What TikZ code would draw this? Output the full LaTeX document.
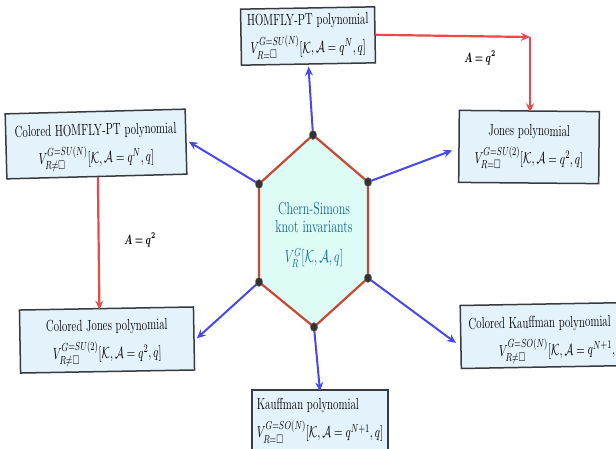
\documentclass[tikz,border=0pt]{standalone}
\usepackage{amsmath,amssymb,bm,graphicx}
\usetikzlibrary{arrows.meta,shapes.geometric}
\definecolor{boxfill}{RGB}{228,242,252}
\definecolor{boxborder}{RGB}{55,58,62}
\definecolor{hexfill}{RGB}{222,252,246}
\definecolor{hexedge}{RGB}{200,72,52}
\definecolor{hextext}{RGB}{20,104,150}
\definecolor{bluearr}{RGB}{72,72,240}
\definecolor{redarr}{RGB}{236,72,72}
\newcommand{\vst}[1]{\scalebox{1}[1.45]{#1}}
\newcommand{\tpad}[1]{\rule{0pt}{#1}}
\begin{document}
\begin{tikzpicture}[x=1pt,y=-1pt,
  polybox/.style={draw=boxborder, line width=1.5pt, fill=boxfill, align=center,
    font=\fontsize{11}{28}\selectfont, inner sep=3pt},
  bluearrow/.style={draw=bluearr, line width=2pt, -{Stealth[length=9pt,width=8pt,inset=3pt]}},
  redarrow/.style={draw=redarr, line width=2.2pt, -{Stealth[length=9pt,width=8pt,inset=3pt]}},
  vdot/.style={ellipse, fill=black!80, draw=black!50, inner sep=0pt, minimum width=7.5pt, minimum height=9pt},
  labtext/.style={font=\fontsize{9}{10}\selectfont}
]
\useasboundingbox[fill=white] (0,0) rectangle (616,448);

% hexagon
\coordinate (v1) at (313,135);
\coordinate (v2) at (368,182);
\coordinate (v3) at (368,278);
\coordinate (v4) at (314,327);
\coordinate (v5) at (259,282);
\coordinate (v6) at (259,184);
\filldraw[fill=hexfill, draw=hexedge, line width=2.2pt, line join=round]
  (v1) -- (v2) -- (v3) -- (v4) -- (v5) -- (v6) -- cycle;
\node[text=hextext, align=center, font=\fontsize{12}{18}\selectfont] (cs) at (314,235)
  {\vst{Chern-Simons}\\\vst{knot invariants}\\[12pt] \vst{$V_R^G[\mathcal{K},\mathcal{A},q]$}};

% boxes
\node[polybox, minimum width=134pt, minimum height=56pt, rotate=1] (homfly) at (308,36)
  {\vst{HOMFLY-PT polynomial}\\ \vst{$V_{R=\square}^{G=SU(N)}[\mathcal{K},\mathcal{A}=q^N,q]$}};
\node[polybox, minimum width=180pt, minimum height=65pt, rotate=1.5] (chomfly) at (96,144)
  {\tpad{18pt}\vst{Colored HOMFLY-PT polynomial}\\ \vst{$V_{R\neq\square}^{G=SU(N)}[\mathcal{K},\mathcal{A}=q^N,q]$}};
\node[polybox, minimum width=140pt, minimum height=72pt, rotate=-0.5] (jones) at (529,147)
  {\vst{Jones polynomial}\\ \vst{$V_{R=\square}^{G=SU(2)}[\mathcal{K},\mathcal{A}=q^2,q]$}};
\node[polybox, minimum width=174pt, minimum height=63pt, rotate=1] (cjones) at (107,340)
  {\tpad{17pt}\vst{Colored Jones polynomial}\\ \vst{$V_{R\neq\square}^{G=SU(2)}[\mathcal{K},\mathcal{A}=q^2,q]$}};
\node[polybox, anchor=west, align=left, text width=158pt, inner xsep=8pt,
  minimum height=63pt, rotate=1] (ckauff) at (460,337)
  {\tpad{20pt}\vst{Colored Kauffman polynomial}\\ \hspace*{30pt}\vst{$V_{R\neq\square}^{G=SO(N)}[\mathcal{K},\mathcal{A}=q^{N+1},q]$}};
\node[polybox, align=left, minimum width=131pt, minimum height=62pt, inner xsep=5pt] (kauff) at (320,421)
  {\vst{Kauffman polynomial}\\ \vst{$V_{R=\square}^{G=SO(N)}[\mathcal{K},\mathcal{A}=q^{N+1},q]$}};

% blue arrows
\draw[bluearrow] (v1) -- ([yshift=-2pt]homfly.south);
\draw[bluearrow] (v2) -- ([yshift=-4pt,xshift=-6pt]jones.west);
\draw[bluearrow] (v6) -- ([xshift=2pt]chomfly.east);
\draw[bluearrow] (v5) -- ([xshift=2pt]cjones.east);
\draw[bluearrow] (v3) -- ([xshift=-4pt,yshift=-6pt]ckauff.west);
\draw[bluearrow] (v4) -- ([yshift=-2pt]kauff.north);

% dots
\node[vdot] (d1) at (v1) {};
\node[vdot] (d2) at (v2) {};
\node[vdot] (d3) at (v3) {};
\node[vdot] (d4) at (v4) {};
\node[vdot] (d5) at (v5) {};
\node[vdot] (d6) at (v6) {};

% red arrows
\coordinate (corner) at (530,37);
\draw[redarrow] (homfly.east) -- (corner);
\draw[redarrow] (corner) -- ([yshift=-2pt]jones.north -| corner);
\draw[redarrow] ([xshift=1pt]chomfly.south) -- ([xshift=-7pt,yshift=-2pt]cjones.north);

% labels
\node[labtext] (la) at (480,58) {\scalebox{1}[1.5]{$\bm{A = q^2}$}};
\node[labtext] (lb) at (140,240) {\scalebox{1}[1.5]{$\bm{A = q^2}$}};
\end{tikzpicture}
\end{document}
